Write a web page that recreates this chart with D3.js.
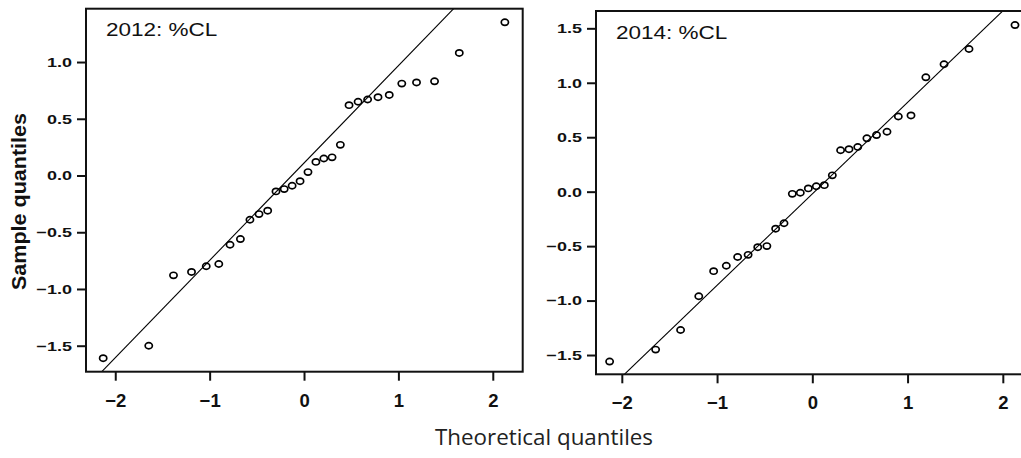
<!DOCTYPE html>
<html>
<head>
<meta charset="utf-8">
<script src="https://cdn.jsdelivr.net/npm/d3@7"></script>
<style>
  body { margin: 0; background: #fff; }
  svg { display: block; }
</style>
</head>
<body>
<div id="chart"></div>
<script>
// theoretical normal quantiles (n = 30), same for both panels
const theoretical = [-2.128, -1.645, -1.383, -1.192, -1.036, -0.903, -0.784, -0.674, -0.573, -0.477,
  -0.385, -0.297, -0.210, -0.126, -0.042, 0.042, 0.126, 0.210, 0.297, 0.385,
  0.477, 0.573, 0.674, 0.784, 0.903, 1.036, 1.192, 1.383, 1.645, 2.128];

// sample quantiles
const sample2012 = [-1.61, -1.50, -0.88, -0.85, -0.80, -0.78, -0.61, -0.56, -0.39, -0.34,
  -0.31, -0.14, -0.12, -0.09, -0.05, 0.03, 0.12, 0.15, 0.16, 0.27,
  0.62, 0.65, 0.67, 0.69, 0.71, 0.81, 0.82, 0.83, 1.08, 1.35];
const sample2014 = [-1.56, -1.45, -1.27, -0.96, -0.73, -0.68, -0.60, -0.58, -0.51, -0.50,
  -0.34, -0.29, -0.02, -0.01, 0.03, 0.05, 0.06, 0.15, 0.38, 0.39,
  0.41, 0.49, 0.52, 0.55, 0.69, 0.70, 1.05, 1.17, 1.31, 1.53];

const panelTitles = ['2012: %CL', '2014: %CL'];

// reference (qq) lines
const lineIntercepts = [0.11, -0.02];
const lineSlopes = [0.858, 0.84];

// axis ranges and ticks
const xDomains = [[-2.31, 2.317], [-2.271, 2.298]];
const yDomains = [[-1.729, 1.47], [-1.677, 1.659]];
const xTicks = [-2, -1, 0, 1, 2];
const yTicks2012 = [-1.5, -1.0, -0.5, 0.0, 0.5, 1.0];
const yTicks2014 = [-1.5, -1.0, -0.5, 0.0, 0.5, 1.0, 1.5];

const xLabel = 'Theoretical quantiles';
const yLabel = 'Sample quantiles';

const W = 1021, H = 458;
const FONT = '"Liberation Sans", Arial, sans-serif';

const svg = d3.select('#chart').append('svg')
  .attr('width', W)
  .attr('height', H);

// panel boxes in pixels
const boxes = [
  { left: 86, right: 522.7, top: 8.7, bottom: 371.7 },
  { left: 596, right: 1031.2, top: 11, bottom: 374.3 }
];

const panels = [
  { sample: sample2012, yTicks: yTicks2012 },
  { sample: sample2014, yTicks: yTicks2014 }
];

panels.forEach(function(p, i) {
  const b = boxes[i];
  const x = d3.scaleLinear().domain(xDomains[i]).range([b.left, b.right]);
  const y = d3.scaleLinear().domain(yDomains[i]).range([b.bottom, b.top]);

  const g = svg.append('g');

  // clip for the reference line
  svg.append('clipPath').attr('id', 'clip' + i)
    .append('rect')
    .attr('x', b.left).attr('y', b.top)
    .attr('width', b.right - b.left).attr('height', b.bottom - b.top);

  // y axis
  const yAxis = g.append('g')
    .attr('transform', 'translate(' + b.left + ',0)')
    .call(d3.axisLeft(y).tickValues(p.yTicks).tickFormat(d3.format('.1f')).tickSize(9).tickPadding(5));
  yAxis.select('.domain').remove();
  yAxis.selectAll('line').attr('stroke', '#111').attr('stroke-width', 2);
  yAxis.selectAll('text')
    .attr('font-family', FONT).attr('font-weight', 'bold').attr('font-size', 18)
    .attr('fill', '#111')
    .attr('transform', 'scale(1,0.76)');

  // x axis
  const xAxis = g.append('g')
    .attr('transform', 'translate(0,' + b.bottom + ')')
    .call(d3.axisBottom(x).tickValues(xTicks).tickFormat(d3.format('d')).tickSize(9).tickPadding(13));
  xAxis.select('.domain').remove();
  xAxis.selectAll('line').attr('stroke', '#111').attr('stroke-width', 2);
  xAxis.selectAll('text')
    .attr('font-family', FONT).attr('font-weight', 'bold').attr('font-size', 18.5)
    .attr('fill', '#111');

  // reference line
  const xd = xDomains[i];
  g.append('line')
    .attr('clip-path', 'url(#clip' + i + ')')
    .attr('x1', x(xd[0])).attr('y1', y(lineIntercepts[i] + lineSlopes[i] * xd[0]))
    .attr('x2', x(xd[1])).attr('y2', y(lineIntercepts[i] + lineSlopes[i] * xd[1]))
    .attr('stroke', '#000').attr('stroke-width', 1.1);

  // points
  g.selectAll('ellipse')
    .data(p.sample)
    .enter().append('ellipse')
    .attr('cx', function(d, k) { return x(theoretical[k]); })
    .attr('cy', function(d) { return y(d); })
    .attr('rx', 3.6).attr('ry', 3.1)
    .attr('fill', 'none')
    .attr('stroke', '#000')
    .attr('stroke-width', 1.7);

  // frame
  g.append('rect')
    .attr('x', b.left).attr('y', b.top)
    .attr('width', b.right - b.left).attr('height', b.bottom - b.top)
    .attr('fill', 'none').attr('stroke', '#111').attr('stroke-width', 2);

  // panel title
  g.append('text')
    .attr('transform', 'translate(' + (b.left + 20) + ',' + (b.top + 27.5) + ') scale(1,0.82)')
    .attr('font-family', FONT).attr('font-size', 22.5)
    .attr('fill', '#111')
    .text(panelTitles[i]);
});

// shared axis titles
svg.append('text')
  .attr('transform', 'translate(25.5,201.5) rotate(-90)')
  .attr('text-anchor', 'middle')
  .attr('font-family', FONT).attr('font-weight', 'bold').attr('font-size', 19.5)
  .attr('textLength', 177).attr('lengthAdjust', 'spacingAndGlyphs')
  .attr('fill', '#111')
  .text(yLabel);

svg.append('text')
  .attr('x', 544).attr('y', 445)
  .attr('text-anchor', 'middle')
  .attr('font-family', '"Open Sans", "Noto Sans", sans-serif').attr('font-size', 21)
  .attr('textLength', 218).attr('lengthAdjust', 'spacingAndGlyphs')
  .attr('fill', '#222')
  .text(xLabel);
</script>
</body>
</html>
